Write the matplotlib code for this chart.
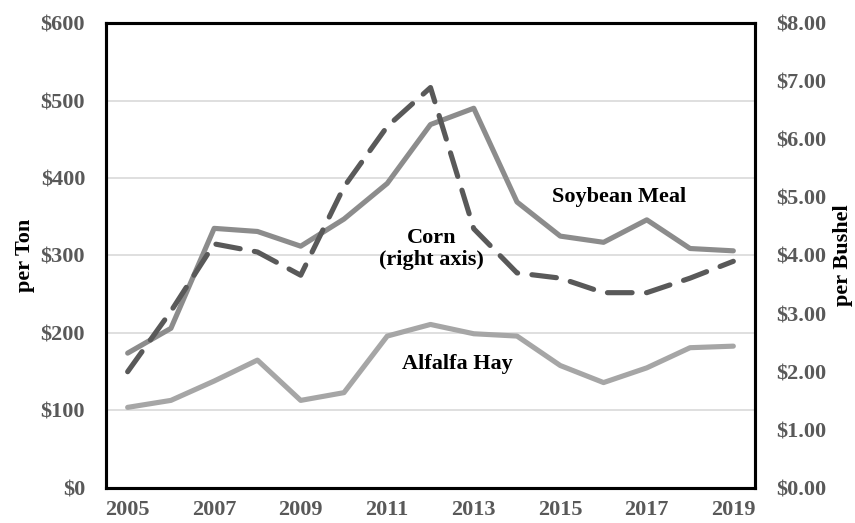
import matplotlib
matplotlib.use("Agg")
import matplotlib.pyplot as plt
from matplotlib.ticker import FuncFormatter, MultipleLocator

years = list(range(2005, 2020))
soybean_meal = [174, 206, 335, 331, 312, 347, 393, 469, 490, 369, 325, 317, 346, 309, 306]
alfalfa_hay = [104, 113, 138, 165, 113, 123, 196, 211, 199, 196, 158, 136, 155, 181, 183]
corn = [2.00, 3.04, 4.20, 4.06, 3.66, 5.18, 6.22, 6.89, 4.46, 3.70, 3.61, 3.36, 3.36, 3.61, 3.90]
year_labels = [str(y) for y in years[::2]]

plt.rcParams['font.family'] = ['Liberation Serif', 'DejaVu Serif']
plt.rcParams['font.weight'] = 'bold'

fig = plt.figure(figsize=(8.55, 5.23), dpi=100)
ax = fig.add_axes([0.124, 0.067, 0.759, 0.889])
ax2 = ax.twinx()

ax.plot(years, alfalfa_hay, color='#a6a6a6', lw=3.7, solid_capstyle='round', zorder=3)
ax.plot(years, soybean_meal, color='#8c8c8c', lw=3.7, solid_capstyle='round', zorder=3)
ax2.plot(years, corn, color='#595959', lw=3.7, dashes=(4.8, 2.8), dash_capstyle='round', zorder=4)

ax.set_xlim(2004.5, 2019.5)
ax.set_ylim(0, 600)
ax2.set_ylim(0, 8)
ax.yaxis.set_major_locator(MultipleLocator(100))
ax2.yaxis.set_major_locator(MultipleLocator(1))
ax.set_xticks(years[::2])
ax.set_xticklabels(year_labels)
ax.yaxis.set_major_formatter(FuncFormatter(lambda v, p: f"${v:.0f}"))
ax2.yaxis.set_major_formatter(FuncFormatter(lambda v, p: f"${v:.2f}"))

ax.grid(axis='y', color='#d9d9d9', lw=1.2, zorder=0)
ax.set_axisbelow(True)

for a in (ax, ax2):
    for s in a.spines.values():
        s.set_color('black')
        s.set_linewidth(2.2)
    a.tick_params(length=0, labelsize=16, labelcolor='#595959')
ax.tick_params(axis='x', pad=9)
ax.tick_params(axis='y', pad=15)
ax2.tick_params(axis='y', pad=15)

ax.set_ylabel('per Ton', fontsize=16, fontweight='bold', labelpad=4)
ax2.set_ylabel('per Bushel', fontsize=16, fontweight='bold', labelpad=5)

ax.text(2016.36, 375, 'Soybean Meal', fontsize=16, fontweight='bold', ha='center', va='center', zorder=5)
ax.text(2012.03, 308, 'Corn\n(right axis)', fontsize=16, fontweight='bold', ha='center', va='center',
        linespacing=1.15, zorder=5)
ax.text(2012.61, 160, 'Alfalfa Hay', fontsize=16, fontweight='bold', ha='center', va='center', zorder=5)

fig.savefig('out.png', dpi=100)
